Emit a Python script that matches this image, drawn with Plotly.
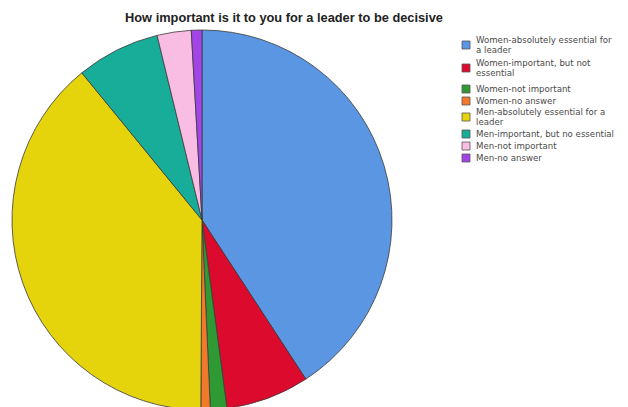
import textwrap
import plotly.graph_objects as go

# ---- data ----
labels = [
    "Women-absolutely essential for a leader",
    "Women-important, but not essential",
    "Women-not important",
    "Women-no answer",
    "Men-absolutely essential for a leader",
    "Men-important, but no essential",
    "Men-not important",
    "Men-no answer",
]
values = [40.8, 7.1, 1.4, 0.8, 39.0, 7.1, 2.9, 0.9]
colors = ["#5b96e2", "#dc0a2c", "#2f9a33", "#f07a2a",
          "#e5d40c", "#17ad98", "#f9bde3", "#a344e6"]
title_text = "How important is it to you for a leader to be decisive"

W, H = 628, 407
OFF = 8  # page body margin offset: figure pixel = page pixel - OFF


def px(x):
    return (x - OFF) / W


def py(y):
    return 1 - (y - OFF) / H


# pie: centre (202, 220) on the page, radius 190
cx, cy, r = 202 - OFF, 220 - OFF, 190
fig = go.Figure(go.Pie(
    labels=labels,
    values=values,
    sort=False,
    direction="clockwise",
    rotation=0,
    textinfo="none",
    marker=dict(colors=colors, line=dict(color="#3a3a3a", width=0.8)),
    domain=dict(x=[(cx - r) / W, (cx + r) / W],
                y=[1 - (cy + r) / H, 1 - (cy - r) / H]),
    showlegend=False,
))

# ---- custom compact legend (built from labels/colors) ----
item_centres = [45, 68, 89, 101, 117, 134, 146, 158]
line_h = 10.2
box_x0, box_x1 = 462, 470
text_x = 475
lfont = dict(family="DejaVu Sans, Verdana, sans-serif", size=8.6, color="#4a4a4a")
for lab, col, mid in zip(labels, colors, item_centres):
    lines = textwrap.wrap(lab, 31, break_on_hyphens=False)
    n = len(lines)
    for k, ln in enumerate(lines):
        ly = mid + line_h * (k - (n - 1) / 2)
        fig.add_annotation(
            x=px(text_x), y=py(ly), xref="paper", yref="paper",
            text=ln, showarrow=False, xanchor="left", yanchor="middle",
            borderpad=0, font=lfont,
        )
    fig.add_shape(
        type="rect", xref="paper", yref="paper",
        x0=px(box_x0), x1=px(box_x1),
        y0=py(mid - 4), y1=py(mid + 4),
        fillcolor=col, line=dict(color="#555555", width=0.8),
    )

fig.update_layout(
    width=W, height=H,
    margin=dict(l=0, r=0, t=0, b=0),
    paper_bgcolor="white", plot_bgcolor="white",
    title=dict(
        text="<b>" + title_text + "</b>",
        x=px(284), xanchor="center", y=py(18), yanchor="middle",
        font=dict(family="Liberation Sans, Arial, sans-serif", size=12.8, color="#222222"),
    ),
)

fig.write_html("out.html")
